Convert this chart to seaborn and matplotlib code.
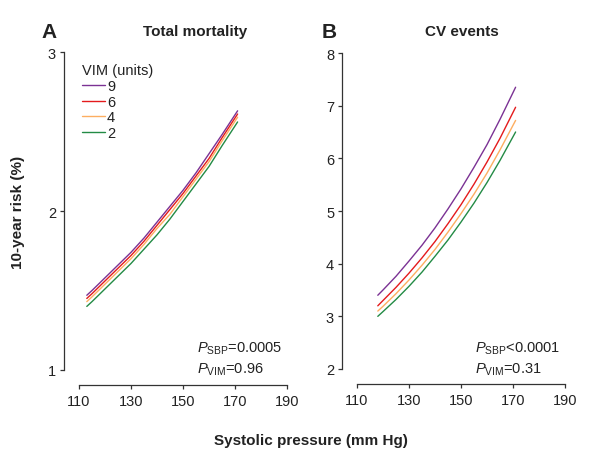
import numpy as np
import pandas as pd
import seaborn as sns
import matplotlib.pyplot as plt

# values
vim_levels = [9, 6, 4, 2]
colors = ["#7B3294", "#E41A1C", "#FDAE61", "#238B45"]

sbp_mort = [113, 115, 120, 125, 130, 135, 140, 145, 150, 155, 160, 165, 171]
mort_vim9 = [1.47, 1.50, 1.58, 1.66, 1.74, 1.83, 1.93, 2.03, 2.13, 2.24, 2.36, 2.48, 2.63]
mort_vim6 = [1.45, 1.48, 1.56, 1.64, 1.72, 1.81, 1.91, 2.01, 2.11, 2.22, 2.33, 2.46, 2.61]
mort_vim4 = [1.43, 1.46, 1.54, 1.62, 1.70, 1.79, 1.89, 1.98, 2.09, 2.20, 2.31, 2.44, 2.59]
mort_vim2 = [1.40, 1.43, 1.51, 1.59, 1.67, 1.76, 1.85, 1.95, 2.06, 2.17, 2.28, 2.41, 2.56]

sbp_cv = [118, 120, 125, 130, 135, 140, 145, 150, 155, 160, 165, 171]
cv_vim9 = [3.40, 3.50, 3.76, 4.05, 4.35, 4.68, 5.04, 5.42, 5.83, 6.26, 6.74, 7.35]
cv_vim6 = [3.20, 3.30, 3.55, 3.82, 4.11, 4.42, 4.76, 5.12, 5.51, 5.93, 6.38, 6.97]
cv_vim4 = [3.10, 3.19, 3.43, 3.69, 3.97, 4.27, 4.60, 4.95, 5.32, 5.72, 6.16, 6.72]
cv_vim2 = [3.00, 3.09, 3.32, 3.57, 3.84, 4.14, 4.45, 4.79, 5.15, 5.54, 5.96, 6.50]


def long_df(sbp, series):
    rows = []
    for vim, vals in zip(vim_levels, series):
        for x, y in zip(sbp, vals):
            rows.append({"sbp": x, "risk": y, "vim": vim})
    return pd.DataFrame(rows)


df_mort = long_df(sbp_mort, [mort_vim9, mort_vim6, mort_vim4, mort_vim2])
df_cv = long_df(sbp_cv, [cv_vim9, cv_vim6, cv_vim4, cv_vim2])

sns.set_style("ticks")
plt.rcParams["font.family"] = ["Liberation Sans", "DejaVu Sans"]
plt.rcParams["mathtext.fontset"] = "custom"
plt.rcParams["mathtext.rm"] = "Liberation Sans"
plt.rcParams["mathtext.it"] = "Liberation Sans:italic"
plt.rcParams["text.color"] = "#222222"
plt.rcParams["axes.edgecolor"] = "#333333"
plt.rcParams["xtick.color"] = "#333333"
plt.rcParams["ytick.color"] = "#333333"
plt.rcParams["xtick.labelcolor"] = "#222222"
plt.rcParams["ytick.labelcolor"] = "#222222"

fig = plt.figure(figsize=(6.0, 4.52), dpi=100)
ax_a = fig.add_axes([79 / 600, 81 / 452, 208 / 600, 318 / 452])
ax_b = fig.add_axes([357 / 600, 82 / 452, 208 / 600, 316 / 452])

palette = dict(zip(vim_levels, colors))

sns.lineplot(data=df_mort, x="sbp", y="risk", hue="vim", hue_order=vim_levels,
             palette=palette, linewidth=1.0, ax=ax_a)
sns.lineplot(data=df_cv, x="sbp", y="risk", hue="vim", hue_order=vim_levels,
             palette=palette, linewidth=1.0, ax=ax_b, legend=False)

for ax, ylim, yticks in [(ax_a, (1, 3), [1, 2, 3]), (ax_b, (2, 8), range(2, 9))]:
    ax.set_xlim(110, 190)
    ax.set_ylim(*ylim)
    ax.set_xticks(range(110, 191, 20))
    ax.set_yticks(list(yticks))
    ax.set_xlabel("")
    ax.set_ylabel("")
    sns.despine(ax=ax)
    ax.spines["left"].set_position(("outward", 10.5))
    ax.spines["bottom"].set_position(("outward", 11))
    ax.spines["left"].set_linewidth(0.9)
    ax.spines["bottom"].set_linewidth(0.9)
    ax.tick_params(labelsize=10.5, length=3, width=0.9, pad=3)

leg = ax_a.legend(title="VIM (units)", loc="upper left", bbox_to_anchor=(0.015, 0.965),
                  frameon=False, fontsize=10.5, title_fontsize=10.5,
                  handlelength=1.6, handletextpad=0.1, labelspacing=0.12,
                  borderaxespad=0, borderpad=0)
leg._legend_box.align = "left"

fig.text(195 / 600, 1 - 32 / 452, "Total mortality", ha="center", va="center",
         fontsize=11, fontweight="bold")
fig.text(462 / 600, 1 - 32 / 452, "CV events", ha="center", va="center",
         fontsize=11, fontweight="bold")
fig.text(49 / 600, 1 - 32 / 452, "A", ha="center", va="center",
         fontsize=15, fontweight="bold")
fig.text(329 / 600, 1 - 32 / 452, "B", ha="center", va="center",
         fontsize=15, fontweight="bold")

fig.text(197 / 600, 1 - 349 / 452, r"$\mathit{P}_{\mathrm{SBP}}$=0.0005",
         ha="left", va="center", fontsize=10.5)
fig.text(197 / 600, 1 - 370 / 452, r"$\mathit{P}_{\mathrm{VIM}}$=0.96",
         ha="left", va="center", fontsize=10.5)
fig.text(475 / 600, 1 - 349 / 452, r"$\mathit{P}_{\mathrm{SBP}}$<0.0001",
         ha="left", va="center", fontsize=10.5)
fig.text(475 / 600, 1 - 370 / 452, r"$\mathit{P}_{\mathrm{VIM}}$=0.31",
         ha="left", va="center", fontsize=10.5)

fig.text(18 / 600, 1 - 212 / 452, "10-year risk (%)", rotation=90,
         ha="center", va="center", fontsize=11, fontweight="bold")
fig.text(311 / 600, 1 - 441 / 452, "Systolic pressure (mm Hg)",
         ha="center", va="center", fontsize=11, fontweight="bold")

fig.savefig("out.png", dpi=100)
